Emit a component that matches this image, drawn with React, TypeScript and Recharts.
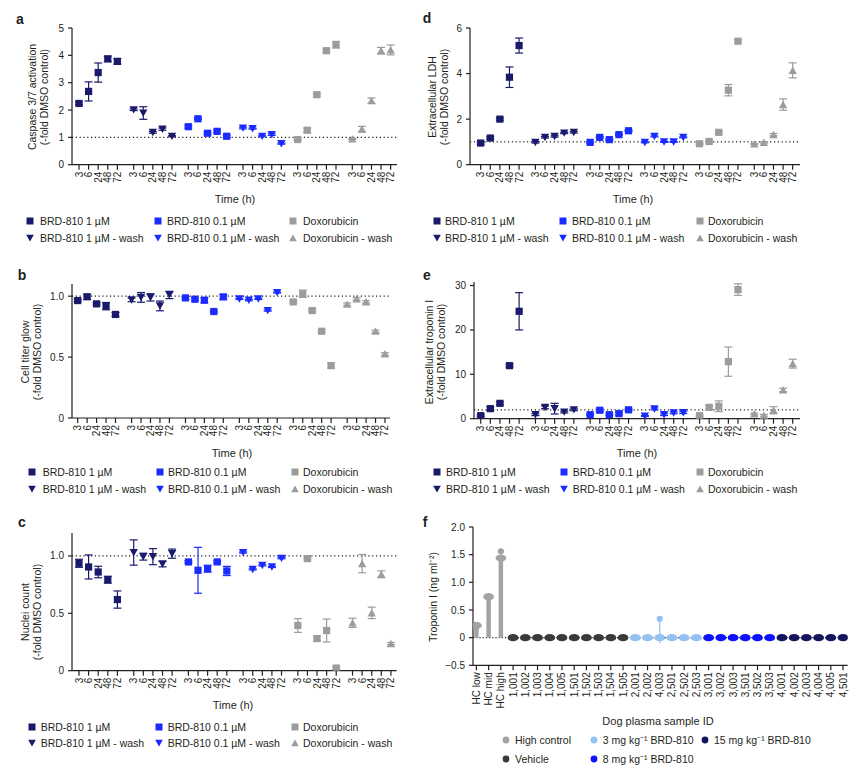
import React from "react";
import { ScatterChart, Scatter, XAxis, YAxis, ReferenceLine, ErrorBar } from "recharts";

const NAVY = "#1a1a6c";
const BLUE = "#1a2bff";
const GREY = "#9c9c9c";
const INK = "#231f20";
const FONT = "'Liberation Sans', Arial, sans-serif";

// time points inside each treatment block
const timePoints = ["3", "6", "24", "48", "72"];
const BLOCK = 5.7; // x distance between treatment blocks

const treatments = [
  { name: "BRD-810 1 µM", color: NAVY, shape: "square" },
  { name: "BRD-810 1 µM - wash", color: NAVY, shape: "down" },
  { name: "BRD-810 0.1 µM", color: BLUE, shape: "square" },
  { name: "BRD-810 0.1 µM - wash", color: BLUE, shape: "down" },
  { name: "Doxorubicin", color: GREY, shape: "square" },
  { name: "Doxorubicin - wash", color: GREY, shape: "up" },
];

// a: caspase 3/7 activation
const casp1 = [2.24, 2.68, 3.37, 3.87, 3.78];
const casp1Err = [0.05, 0.35, 0.35, 0.1, 0.1];
const casp1W = [2.01, 1.89, 1.18, 1.3, 1.04];
const casp1WErr = [0.03, 0.23, 0.03, 0.04, 0.02];
const casp01 = [1.39, 1.68, 1.15, 1.22, 1.04];
const casp01Err = [0.05, 0.03, 0.04, 0.05, 0.04];
const casp01W = [1.34, 1.32, 1.04, 1.1, 0.77];
const casp01WErr = [0.03, 0.02, 0.02, 0.03, 0.02];
const caspDox = [0.92, 1.26, 2.56, 4.17, 4.39];
const caspDoxErr = [0.03, 0.08, 0.05, 0.05, 0.12];
const caspDoxW = [0.94, 1.3, 2.34, 4.17, 4.2];
const caspDoxWErr = [0.02, 0.1, 0.1, 0.12, 0.18];

// b: cell titer glow
const ctg1 = [0.964, 0.995, 0.937, 0.918, 0.85];
const ctg1Err = [0.01, 0.02, 0.01, 0.03, 0.015];
const ctg1W = [0.97, 0.99, 0.99, 0.92, 1.01];
const ctg1WErr = [0.015, 0.04, 0.03, 0.04, 0.03];
const ctg01 = [0.986, 0.975, 0.967, 0.874, 0.994];
const ctg01Err = [0.01, 0.01, 0.02, 0.005, 0.02];
const ctg01W = [0.978, 0.967, 0.978, 0.882, 1.03];
const ctg01WErr = [0.005, 0.005, 0.005, 0.005, 0.005];
const ctgDox = [0.953, 1.02, 0.882, 0.712, 0.43];
const ctgDoxErr = [0.01, 0.03, 0.01, 0.01, 0.02];
const ctgDoxW = [0.934, 0.978, 0.953, 0.712, 0.526];
const ctgDoxWErr = [0.01, 0.01, 0.01, 0.01, 0.01];

// c: nuclei count
const nuc1 = [0.936, 0.904, 0.86, 0.793, 0.62];
const nuc1Err = [0.035, 0.105, 0.05, 0.03, 0.075];
const nuc1W = [1.03, 0.994, 0.994, 0.93, 1.02];
const nuc1WErr = [0.11, 0.03, 0.07, 0.025, 0.04];
const nuc01 = [0.948, 0.875, 0.889, 0.948, 0.869];
const nuc01Err = [0.01, 0.2, 0.03, 0.01, 0.04];
const nuc01W = [1.03, 0.883, 0.918, 0.904, 0.98];
const nuc01WErr = [0.005, 0.005, 0.005, 0.005, 0.005];
const nucDox = [0.394, 0.977, 0.28, 0.35, 0.023];
const nucDoxErr = [0.06, 0.01, 0.02, 0.1, 0.01];
const nucDoxW = [0.417, 0.933, 0.504, 0.84, 0.236];
const nucDoxWErr = [0.04, 0.08, 0.05, 0.03, 0.01];

// d: extracellular LDH
const ldh1 = [0.95, 1.17, 2.0, 3.84, 5.23];
const ldh1Err = [0.05, 0.05, 0.05, 0.45, 0.33];
const ldh1W = [0.98, 1.2, 1.24, 1.39, 1.42];
const ldh1WErr = [0.03, 0.03, 0.03, 0.03, 0.03];
const ldh01 = [0.98, 1.2, 1.1, 1.32, 1.49];
const ldh01Err = [0.03, 0.03, 0.03, 0.03, 0.03];
const ldh01W = [0.98, 1.24, 1.0, 1.0, 1.2];
const ldh01WErr = [0.02, 0.02, 0.02, 0.02, 0.02];
const ldhDox = [0.92, 1.02, 1.42, 3.27, 5.42];
const ldhDoxErr = [0.03, 0.05, 0.05, 0.25, 0.06];
const ldhDoxW = [0.91, 0.98, 1.32, 2.64, 4.14];
const ldhDoxWErr = [0.02, 0.03, 0.05, 0.25, 0.33];

// e: extracellular troponin I
const trop1 = [0.68, 2.26, 3.46, 11.95, 24.2];
const trop1Err = [0.2, 0.4, 0.3, 0.3, 4.2];
const trop1W = [0.9, 2.55, 2.26, 1.5, 2.0];
const trop1WErr = [0.2, 0.3, 1.2, 0.2, 0.2];
const trop01 = [0.9, 1.9, 0.9, 1.13, 2.0];
const trop01Err = [0.2, 0.3, 0.2, 0.3, 0.2];
const trop01W = [0.6, 2.2, 0.9, 1.3, 1.35];
const trop01WErr = [0.1, 0.2, 0.2, 0.2, 0.2];
const tropDox = [0.68, 2.55, 2.8, 12.86, 29.1];
const tropDoxErr = [0.2, 0.4, 1.2, 3.3, 1.3];
const tropDoxW = [1.1, 0.75, 1.9, 6.47, 12.4];
const tropDoxWErr = [0.2, 0.2, 0.8, 0.4, 1.0];

// f: dog plasma troponin I
const sampleIds = [
  "HC low", "HC mid", "HC high",
  "1,001", "1,002", "1,003", "1,004", "1,005", "1,501", "1,502", "1,503", "1,504", "1,505",
  "2,001", "2,002", "4,003", "2,501", "2,502", "2,503",
  "3,001", "3,002", "3,003", "3,501", "3,502", "3,503",
  "4,001", "4,002", "2,003", "4,004", "4,005", "4,501",
];
const hcValues = [0.22, 0.74, 1.44];
const hcHighRepeat = [1.56];
const vehicleValues = [0, 0, 0, 0, 0, 0, 0, 0, 0, 0];
const mg3Values = [0, 0, 0, 0, 0, 0];
const mg3Outlier = 0.34; // sample 4,003
const mg3OutlierLow = -0.1;
const mg8Values = [0, 0, 0, 0, 0, 0];
const mg15Values = [0, 0, 0, 0, 0, 0];

const F_HC = "#a3a3a3";
const F_VEH = "#3a3a3a";
const F_3 = "#93c1f3";
const F_8 = "#0b12ff";
const F_15 = "#15145e";

const Square = (p: any) => <rect x={p.cx - 3.6} y={p.cy - 3.6} width={7.2} height={7.2} fill={p.fill} />;
const TriDown = (p: any) => (
  <polygon points={`${p.cx - 4.2},${p.cy - 3.6} ${p.cx + 4.2},${p.cy - 3.6} ${p.cx},${p.cy + 3.8}`} fill={p.fill} />
);
const TriUp = (p: any) => (
  <polygon points={`${p.cx - 4.2},${p.cy + 3.6} ${p.cx + 4.2},${p.cy + 3.6} ${p.cx},${p.cy - 3.8}`} fill={p.fill} />
);
const Oval = (p: any) => <ellipse cx={p.cx} cy={p.cy} rx={5.4} ry={3.6} fill={p.fill} />;
const Dot = (p: any) => <circle cx={p.cx} cy={p.cy} r={3.1} fill={p.fill} />;

const shapeOf = (s: string) => (s === "square" ? Square : s === "down" ? TriDown : TriUp);

const RotTick = (p: any) => {
  const { x, y, index, labels } = p;
  return (
    <text
      x={x}
      y={y}
      transform={`rotate(-90, ${x}, ${y})`}
      textAnchor="end"
      dominantBaseline="central"
      fontSize={10}
      fill={INK}
      fontFamily={FONT}
    >
      {labels[index]}
    </text>
  );
};

type Box = { left: number; top: number; right: number; bottom: number };

const Txt = ({ x, y, children, size = 11, bold = false, rotate = false, center = true, lh = 12 }: any) => (
  <div
    style={{
      position: "absolute",
      left: x,
      top: y,
      transform: `translate(${center ? "-50%" : "0"}, -50%)${rotate ? " rotate(-90deg)" : ""}`,
      fontSize: size,
      fontWeight: bold ? 700 : 400,
      whiteSpace: "nowrap",
      textAlign: "center",
      lineHeight: `${lh}px`,
      color: INK,
    }}
  >
    {children}
  </div>
);

function MarkerIcon({ shape, color }: { shape: string; color: string }) {
  return (
    <svg width={10} height={10} style={{ display: "block" }}>
      {shape === "square" && <rect x={1.5} y={1.5} width={7} height={7} fill={color} />}
      {shape === "down" && <polygon points="1.2,1.8 8.8,1.8 5,8.6" fill={color} />}
      {shape === "up" && <polygon points="1.2,8.2 8.8,8.2 5,1.4" fill={color} />}
      {shape === "dot" && <circle cx={5} cy={5} r={3.4} fill={color} />}
    </svg>
  );
}

function LegendItem({ mx, tx, y, shape, color, label }: any) {
  return (
    <>
      <div style={{ position: "absolute", left: mx - 5, top: y - 5 }}>
        <MarkerIcon shape={shape} color={color} />
      </div>
      <Txt x={tx} y={y} size={10.5} center={false}>
        {label}
      </Txt>
    </>
  );
}

function TreatmentLegend({ cols, rows }: { cols: number[][]; rows: number[] }) {
  // 3 columns x 2 rows, filled column by column
  return (
    <>
      {treatments.map((t, i) => {
        const c = Math.floor(i / 2);
        const r = i % 2;
        return (
          <LegendItem key={t.name} mx={cols[c][0]} tx={cols[c][1]} y={rows[r]} shape={t.shape} color={t.color} label={t.name} />
        );
      })}
    </>
  );
}

const PAD_L = 44;
const PAD_T = 8;
const PAD_R = 8;
const Y_W = 36;

function TimePanel({
  box,
  xDomain,
  yDomain,
  yTicks,
  yFmt,
  refY,
  values,
  errs,
}: {
  box: Box;
  xDomain: number[];
  yDomain: number[];
  yTicks: number[];
  yFmt: (v: number) => string;
  refY: number;
  values: number[][];
  errs: number[][];
}) {
  const xH = 30;
  const w = box.right - box.left + PAD_L + PAD_R;
  const h = box.bottom - box.top + PAD_T + xH + 2;
  const xTicks: number[] = [];
  const xLabels: string[] = [];
  treatments.forEach((_, g) =>
    timePoints.forEach((lab, i) => {
      xTicks.push(g * BLOCK + i);
      xLabels.push(lab);
    })
  );
  return (
    <div style={{ position: "absolute", left: box.left - PAD_L, top: box.top - PAD_T }}>
      <ScatterChart width={w} height={h} margin={{ top: PAD_T, right: PAD_R, left: PAD_L - Y_W, bottom: 2 }}>
        <XAxis
          type="number"
          dataKey="x"
          domain={xDomain}
          ticks={xTicks}
          interval={0}
          height={xH}
          tickSize={5}
          tickMargin={2}
          allowDataOverflow
          stroke={INK}
          strokeWidth={1.2}
          tick={(p: any) => <RotTick {...p} labels={xLabels} />}
        />
        <YAxis
          type="number"
          dataKey="y"
          domain={yDomain}
          ticks={yTicks}
          interval={0}
          width={Y_W}
          tickSize={4}
          tickMargin={4}
          allowDataOverflow
          stroke={INK}
          strokeWidth={1.2}
          tickFormatter={yFmt}
          tick={{ fontSize: 10, fill: INK, fontFamily: FONT }}
        />
        <ReferenceLine y={refY} stroke={INK} strokeWidth={1.2} strokeDasharray="1.2 2.6" />
        {treatments.map((t, g) => (
          <Scatter
            key={t.name}
            name={t.name}
            data={values[g].map((v, i) => ({ x: g * BLOCK + i, y: v, e: errs[g][i] }))}
            fill={t.color}
            shape={shapeOf(t.shape)}
            isAnimationActive={false}
          >
            <ErrorBar dataKey="e" direction="y" width={4} stroke={t.color} strokeWidth={1.2} isAnimationActive={false} />
          </Scatter>
        ))}
      </ScatterChart>
    </div>
  );
}

function TroponinPanel({ box }: { box: Box }) {
  const xH = 44;
  const w = box.right - box.left + PAD_L + PAD_R;
  const h = box.bottom - box.top + PAD_T + xH + 2;
  let idx = 0;
  const place = (vals: number[]) => vals.map((v) => ({ x: idx++, y: v }));
  const hc = place(hcValues).map((d) => ({ ...d, stem: [d.y, 0] }));
  const veh = place(vehicleValues);
  const mg3 = place(mg3Values);
  const mg8 = place(mg8Values);
  const mg15 = place(mg15Values);
  const hcHigh = hcHighRepeat.map((v) => ({ x: sampleIds.indexOf("HC high"), y: v }));
  const outlier = [{ x: sampleIds.indexOf("4,003"), y: mg3Outlier, stem: [mg3Outlier - mg3OutlierLow, 0] }];
  const ticks = sampleIds.map((_, i) => i);
  return (
    <div style={{ position: "absolute", left: box.left - PAD_L, top: box.top - PAD_T }}>
      <ScatterChart width={w} height={h} margin={{ top: PAD_T, right: PAD_R, left: PAD_L - Y_W, bottom: 2 }}>
        <XAxis
          type="number"
          dataKey="x"
          domain={[-0.28, 30.38]}
          ticks={ticks}
          interval={0}
          height={xH}
          tickSize={5}
          tickMargin={2}
          allowDataOverflow
          stroke={INK}
          strokeWidth={1.2}
          tick={(p: any) => <RotTick {...p} labels={sampleIds} />}
        />
        <YAxis
          type="number"
          dataKey="y"
          domain={[-0.5, 2]}
          ticks={[-0.5, 0, 0.5, 1, 1.5, 2]}
          interval={0}
          width={Y_W}
          tickSize={4}
          tickMargin={4}
          allowDataOverflow
          stroke={INK}
          strokeWidth={1.2}
          tickFormatter={(v: number) => (v === 0 ? "0" : v < 0 ? "−0.5" : v.toFixed(1))}
          tick={{ fontSize: 10, fill: INK, fontFamily: FONT }}
        />
        <ReferenceLine y={0} stroke={INK} strokeWidth={1.2} strokeDasharray="1.2 2" />
        <Scatter data={hc} fill={F_HC} shape={Oval} isAnimationActive={false}>
          <ErrorBar dataKey="stem" direction="y" width={0} stroke={F_HC} strokeWidth={4.5} isAnimationActive={false} />
        </Scatter>
        <Scatter data={hcHigh} fill={F_HC} shape={Dot} isAnimationActive={false} />
        <Scatter data={veh} fill={F_VEH} shape={Oval} isAnimationActive={false} />
        <Scatter data={outlier} fill={F_3} shape={Dot} isAnimationActive={false}>
          <ErrorBar dataKey="stem" direction="y" width={0} stroke={F_3} strokeWidth={1.2} isAnimationActive={false} />
        </Scatter>
        <Scatter data={mg3} fill={F_3} shape={Oval} isAnimationActive={false} />
        <Scatter data={mg8} fill={F_8} shape={Oval} isAnimationActive={false} />
        <Scatter data={mg15} fill={F_15} shape={Oval} isAnimationActive={false} />
      </ScatterChart>
    </div>
  );
}

const fmtInt = (v: number) => String(v);
const fmtOne = (v: number) => (v === 0 ? "0" : v.toFixed(1));

export default function App() {
  return (
    <div
      style={{
        position: "absolute",
        left: 0,
        top: 0,
        width: 861,
        height: 771,
        background: "#fff",
        fontFamily: FONT,
        color: INK,
      }}
    >
      {/* a */}
      <Txt x={20} y={19} size={14} bold>a</Txt>
      <Txt x={37.5} y={96.7} size={10.5} rotate>
        Caspase 3/7 activation
        <br />
        (-fold DMSO control)
      </Txt>
      <TimePanel
        box={{ left: 72, top: 28.3, right: 397, bottom: 165 }}
        xDomain={[-0.73, 33.16]}
        yDomain={[0, 5]}
        yTicks={[0, 1, 2, 3, 4, 5]}
        yFmt={fmtInt}
        refY={1}
        values={[casp1, casp1W, casp01, casp01W, caspDox, caspDoxW]}
        errs={[casp1Err, casp1WErr, casp01Err, casp01WErr, caspDoxErr, caspDoxWErr]}
      />
      <Txt x={235} y={199} size={11}>Time (h)</Txt>
      <TreatmentLegend cols={[[30, 40], [158, 167], [293, 303]]} rows={[221, 238]} />

      {/* b */}
      <Txt x={22} y={275} size={14} bold>b</Txt>
      <Txt x={31} y={352} size={10.5} rotate>
        Cell titer glow
        <br />
        (-fold DMSO control)
      </Txt>
      <TimePanel
        box={{ left: 72, top: 284.3, right: 390, bottom: 418.3 }}
        xDomain={[-0.6, 33.03]}
        yDomain={[0, 1.1]}
        yTicks={[0, 0.5, 1]}
        yFmt={fmtOne}
        refY={1}
        values={[ctg1, ctg1W, ctg01, ctg01W, ctgDox, ctgDoxW]}
        errs={[ctg1Err, ctg1WErr, ctg01Err, ctg01WErr, ctgDoxErr, ctgDoxWErr]}
      />
      <Txt x={232} y={453} size={11}>Time (h)</Txt>
      <TreatmentLegend cols={[[31.7, 42.7], [160, 168], [295, 303]]} rows={[471.7, 489]} />

      {/* c */}
      <Txt x={22} y={522} size={14} bold>c</Txt>
      <Txt x={31} y={611.7} size={10.5} rotate>
        Nuclei count
        <br />
        (-fold DMSO control)
      </Txt>
      <TimePanel
        box={{ left: 72, top: 533.3, right: 396.7, bottom: 671 }}
        xDomain={[-0.73, 33.1]}
        yDomain={[0, 1.2]}
        yTicks={[0, 0.5, 1]}
        yFmt={fmtOne}
        refY={1}
        values={[nuc1, nuc1W, nuc01, nuc01W, nucDox, nucDoxW]}
        errs={[nuc1Err, nuc1WErr, nuc01Err, nuc01WErr, nucDoxErr, nucDoxWErr]}
      />
      <Txt x={233} y={705} size={11}>Time (h)</Txt>
      <TreatmentLegend cols={[[31.7, 40.7], [159, 167.7], [295, 303]]} rows={[726.7, 743.3]} />

      {/* d */}
      <Txt x={427} y={18} size={14} bold>d</Txt>
      <Txt x={437.5} y={96.7} size={10.5} rotate>
        Extracellular LDH
        <br />
        (-fold DMSO control)
      </Txt>
      <TimePanel
        box={{ left: 470, top: 28.3, right: 800, bottom: 165 }}
        xDomain={[-1.11, 33.26]}
        yDomain={[0, 6]}
        yTicks={[0, 2, 4, 6]}
        yFmt={fmtInt}
        refY={1}
        values={[ldh1, ldh1W, ldh01, ldh01W, ldhDox, ldhDoxW]}
        errs={[ldh1Err, ldh1WErr, ldh01Err, ldh01WErr, ldhDoxErr, ldhDoxWErr]}
      />
      <Txt x={633} y={199} size={11}>Time (h)</Txt>
      <TreatmentLegend cols={[[437, 445], [563, 572], [700, 708]]} rows={[221, 238]} />

      {/* e */}
      <Txt x={427} y={275} size={14} bold>e</Txt>
      <Txt x={435} y={351.7} size={10.5} rotate>
        Extracellular troponin I
        <br />
        (-fold DMSO control)
      </Txt>
      <TimePanel
        box={{ left: 474, top: 282.3, right: 800, bottom: 419 }}
        xDomain={[-0.7, 33.26]}
        yDomain={[0, 30.8]}
        yTicks={[0, 10, 20, 30]}
        yFmt={fmtInt}
        refY={2}
        values={[trop1, trop1W, trop01, trop01W, tropDox, tropDoxW]}
        errs={[trop1Err, trop1WErr, trop01Err, trop01WErr, tropDoxErr, tropDoxWErr]}
      />
      <Txt x={637} y={453} size={11}>Time (h)</Txt>
      <TreatmentLegend cols={[[436.7, 446], [564, 572.7], [700, 708]]} rows={[471.7, 489]} />

      {/* f */}
      <Txt x={425} y={522} size={14} bold>f</Txt>
      <Txt x={432.7} y={596.7} size={10.5} rotate>
        Troponin I (ng ml⁻²)
      </Txt>
      <TroponinPanel box={{ left: 473.3, top: 526.7, right: 848, bottom: 665 }} />
      <Txt x={658} y={721} size={11}>Dog plasma sample ID</Txt>
      <LegendItem mx={506} tx={515} y={740} shape="dot" color={F_HC} label="High control" />
      <LegendItem mx={506} tx={515} y={759} shape="dot" color={F_VEH} label="Vehicle" />
      <LegendItem mx={594} tx={602.7} y={740} shape="dot" color={F_3} label="3 mg kg⁻¹ BRD-810" />
      <LegendItem mx={594} tx={602.7} y={759} shape="dot" color={F_8} label="8 mg kg⁻¹ BRD-810" />
      <LegendItem mx={705} tx={714} y={740} shape="dot" color={F_15} label="15 mg kg⁻¹ BRD-810" />
    </div>
  );
}
